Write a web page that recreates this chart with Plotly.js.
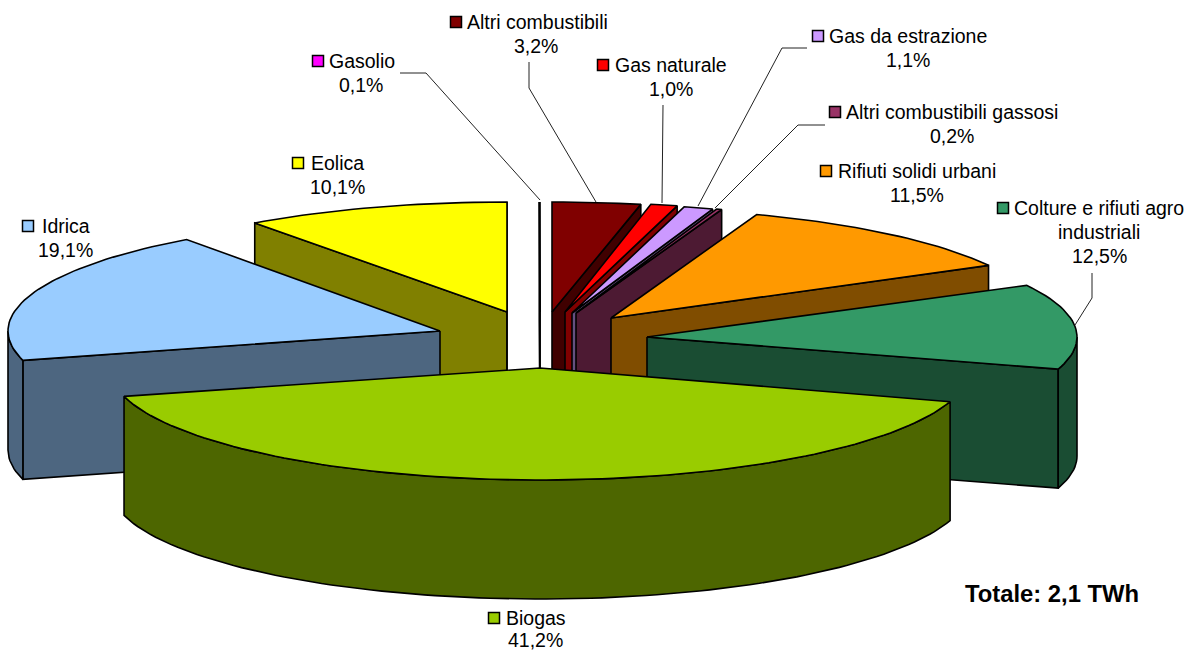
<!DOCTYPE html>
<html><head><meta charset="utf-8">
<script src="https://cdn.plot.ly/plotly-3.0.1.min.js"></script>
<style>html,body{margin:0;padding:0;background:#fff}#c{width:1195px;height:650px}</style>
</head><body><div id="c"></div>
<script>
// DATA (clockwise from 12 o'clock)
const names  = ["Altri combustibili","Gas naturale","Gas da estrazione","Altri combustibili gassosi","Rifiuti solidi urbani","Colture e rifiuti agro industriali","Biogas","Idrica","Eolica","Gasolio"];
const values = [3.2,1.0,1.1,0.2,11.5,12.5,41.2,19.1,10.1,0.1];
const totalLabel = "Totale: 2,1 TWh";

// STYLE
const topColors  = ["#800000","#FF0000","#CC99FF","#993366","#FF9900","#339966","#99CC00","#99CCFF","#FFFF00","#FF00FF"];
const sideColors = ["#400000","#800000","#665080","#4D1A33","#804D00","#1A4D33","#4D6600","#4D6680","#808000","#800080"];

// LAYOUT of the exploded slices (pixels)
const apexX = [552,565,572,576,611,647,540,440,507,540];
const apexY = [312,312,313,313,318,337,368,331,312,312];
const radX  = [430,430,430,430,430,430,430,432,430,430];
const radY  = [110,110,110,110,110,110,112,113,110,110];
const DEPTH = 119;
const drawOrder = [0,1,2,3,4,9,8,7,5,6];
// small per-slice corrections of the projected edges (degrees), mimicking the perspective of the original
const nudgeStart = [0,0,0,0,0,0.8,1.3,0.4,0.8,0.26];
const nudgeEnd   = [0.4,0,0,0,0.2,0.8,0.8,0.8,0.36,0];

// LAYOUT of labels: key x, key y, name x, percent x, percent y
const keyX  = [456,603,818,835,826,1003,494,28,298,318];
const keyY  = [22,65,36,112,171,208,618,226,163,61];
const nameX = [466,614,828,845,837,1013,505,41,310,328];
const pctX  = [536,671,908,952,917,1099,535,65,337,361];
const pctY  = [46,89,60,136,195,256,640,250,187,85];
const leaders = [
  [[529,529,596],[62,88,202]],
  [[663,662],[105,203]],
  [[807,782,698],[48,48,206]],
  [[825,798,715],[125,125,208]],
  null,
  [[1092,1092,1075],[273,298,325]],
  null,null,null,
  [[400,426,540],[73,73,200]]
];

const DEG = Math.PI/180, LW = 1.6;
const rimPt = (i,a,dz=0)=>[apexX[i]+radX[i]*Math.sin(a*DEG), apexY[i]-radY[i]*Math.cos(a*DEG)+dz];
const arc = (i,a0,a1,dz=0)=>{const n=Math.max(2,Math.ceil(Math.abs(a1-a0)/1.5)),p=[];
  for(let k=0;k<=n;k++)p.push(rimPt(i,a0+(a1-a0)*k/n,dz));return p;};
const poly=(pts,fill)=>({type:'scatter',mode:'lines',x:[...pts.map(p=>p[0]),pts[0][0]],y:[...pts.map(p=>p[1]),pts[0][1]],
  fill:'toself',fillcolor:fill,line:{color:'#000',width:LW,shape:'linear'},hoverinfo:'skip',showlegend:false});

const total = values.reduce((a,b)=>a+b,0);
const startAngle=[];let run=0;
values.forEach(v=>{startAngle.push(run/total*360);run+=v;});

const traces=[];
drawOrder.forEach(i=>{
  const a0=startAngle[i]+nudgeStart[i], a1=startAngle[i]+values[i]/total*360+nudgeEnd[i], ap=[apexX[i],apexY[i]], apB=[apexX[i],apexY[i]+DEPTH];
  [[a0,-Math.sin(a0*DEG)],[a1,Math.sin(a1*DEG)]].forEach(([a,f])=>{
    if(f>0){const r=rimPt(i,a),rb=rimPt(i,a,DEPTH);traces.push(poly([ap,r,rb,apB],sideColors[i]));}
  });
  const w0=Math.max(a0,90),w1=Math.min(a1,270);
  if(w1>w0)traces.push(poly([...arc(i,w0,w1),...arc(i,w1,w0,DEPTH)],sideColors[i]));
  traces.push(poly([ap,...arc(i,a0,a1)],topColors[i]));
});

leaders.forEach(l=>{if(l)traces.push({type:'scatter',mode:'lines',x:l[0],y:l[1],line:{color:'#222',width:1},hoverinfo:'skip',showlegend:false});});
traces.push({type:'scatter',mode:'markers',x:keyX,y:keyY,marker:{symbol:'square',size:11,color:topColors,line:{color:'#000',width:1.5}},hoverinfo:'skip',showlegend:false});

const F={family:'"Liberation Sans",Arial,sans-serif',size:19.5,color:'#000'};
const note=(x,y,text,xanchor,font=F)=>({xref:'x',yref:'y',x,y,text,xanchor,yanchor:'middle',showarrow:false,font,borderpad:0});
const ann=[];
names.forEach((n,i)=>{
  const pct=values[i].toFixed(1).replace('.',',')+'%';
  if(i===5){
    ann.push(note(nameX[i],keyY[i],"Colture e rifiuti agro",'left'));
    ann.push(note(pctX[i],pctY[i]-24,"industriali",'center'));
  } else ann.push(note(nameX[i],keyY[i],n,'left'));
  ann.push(note(pctX[i],pctY[i],pct,'center'));
});
ann.push(note(1052,593,'<b>'+totalLabel+'</b>','center',{family:F.family,size:23.8,color:'#000'}));

Plotly.newPlot('c',traces,{
  width:1195,height:650,margin:{l:0,r:0,t:0,b:0},paper_bgcolor:'#fff',plot_bgcolor:'#fff',showlegend:false,
  xaxis:{range:[0,1195],visible:false,fixedrange:true},
  yaxis:{range:[650,0],visible:false,fixedrange:true},
  annotations:ann
},{staticPlot:true,displayModeBar:false});
</script></body></html>
